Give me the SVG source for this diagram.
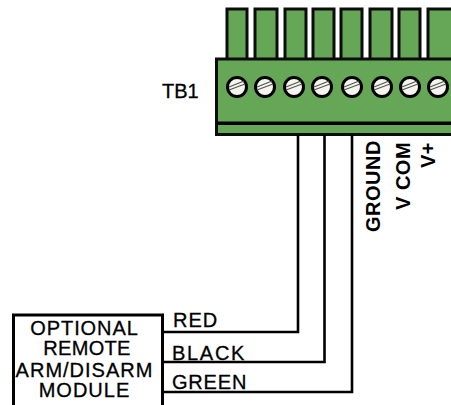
<svg xmlns="http://www.w3.org/2000/svg" width="451" height="405" viewBox="0 0 451 405">
<style>
.g{fill:#66a757;stroke:#0c0c0c;stroke-width:3}
.w{fill:none;stroke:#000;stroke-width:2.6}
.s{fill:#f4f6ee;stroke:#000;stroke-width:3}
.l{stroke:#555;stroke-width:1.2;fill:none}
text{font-family:"Liberation Sans",Arial,sans-serif;fill:#000}
.t{font-size:20px;stroke:#000;stroke-width:.3px}
.m{font-size:20px;text-anchor:middle;stroke:#000;stroke-width:.3px}
.b{font-weight:bold;font-size:20px;letter-spacing:.5px}
</style>
<rect width="451" height="405" fill="#fff"/>
<g id="terminal-block">
<rect class="g" x="227" y="9" width="20" height="51"/>
<rect class="g" x="255" y="9" width="22" height="51"/>
<rect class="g" x="285" y="9" width="21" height="51"/>
<rect class="g" x="313" y="9" width="21" height="51"/>
<rect class="g" x="341" y="9" width="21" height="51"/>
<rect class="g" x="370" y="9" width="22" height="51"/>
<rect class="g" x="399" y="9" width="21" height="51"/>
<rect class="g" x="428" y="9" width="26" height="51"/>
<rect class="g" x="216.500" y="59" width="238" height="75.500"/>
<rect x="217" y="121.500" width="236" height="3.500" fill="#000"/>
<g id="screws">
<g><circle class="s" cx="237" cy="87" r="9.500"/><path class="l" d="M229 90 245 84M229 87 244 81"/></g>
<g><circle class="s" cx="265" cy="87" r="9.500"/><path class="l" d="M257 90 273 84M257 87 272 81"/></g>
<g><circle class="s" cx="294" cy="87" r="9.500"/><path class="l" d="M286 90 302 84M286 87 301 81"/></g>
<g><circle class="s" cx="322" cy="87" r="9.500"/><path class="l" d="M314 90 330 84M314 87 329 81"/></g>
<g><circle class="s" cx="352" cy="87" r="9.500"/><path class="l" d="M344 90 360 84M344 87 359 81"/></g>
<g><circle class="s" cx="382" cy="87" r="9.500"/><path class="l" d="M374 90 390 84M374 87 389 81"/></g>
<g><circle class="s" cx="410" cy="87" r="9.500"/><path class="l" d="M402 90 418 84M402 87 417 81"/></g>
<g><circle class="s" cx="438" cy="87" r="9.500"/><path class="l" d="M430 90 446 84M430 87 445 81"/></g>
</g>
</g>
<text id="tb1-label" class="t" x="162" y="98">TB1</text>
<g id="connectors">
<path class="w" d="M298 135V332H162"/>
<path class="w" d="M324.500 135V362H162"/>
<path class="w" d="M352 135V392H162"/>
</g>
<g id="wire-labels">
<text class="t" x="173" y="327" style="letter-spacing:1px">RED</text>
<text class="t" x="172" y="360" style="letter-spacing:1.700px">BLACK</text>
<text class="t" x="172" y="389" style="letter-spacing:.8px">GREEN</text>
</g>
<g id="terminal-labels">
<text class="b" transform="translate(380 232) rotate(-90)">GROUND</text>
<text class="b" transform="translate(410 210) rotate(-90)">V COM</text>
<text class="b" transform="translate(435 168) rotate(-90)">V+</text>
</g>
<g id="module">
<rect x="13.500" y="315" width="149" height="92" fill="#fff" stroke="#000" stroke-width="3"/>
<text class="m" x="84.500" y="335" style="letter-spacing:.9px">OPTIONAL</text>
<text class="m" x="87" y="355" style="letter-spacing:.3px">REMOTE</text>
<text class="m" x="84.500" y="377" style="letter-spacing:1px">ARM/DISARM</text>
<text class="m" x="84.500" y="397" style="letter-spacing:1px">MODULE</text>
</g>
</svg>
